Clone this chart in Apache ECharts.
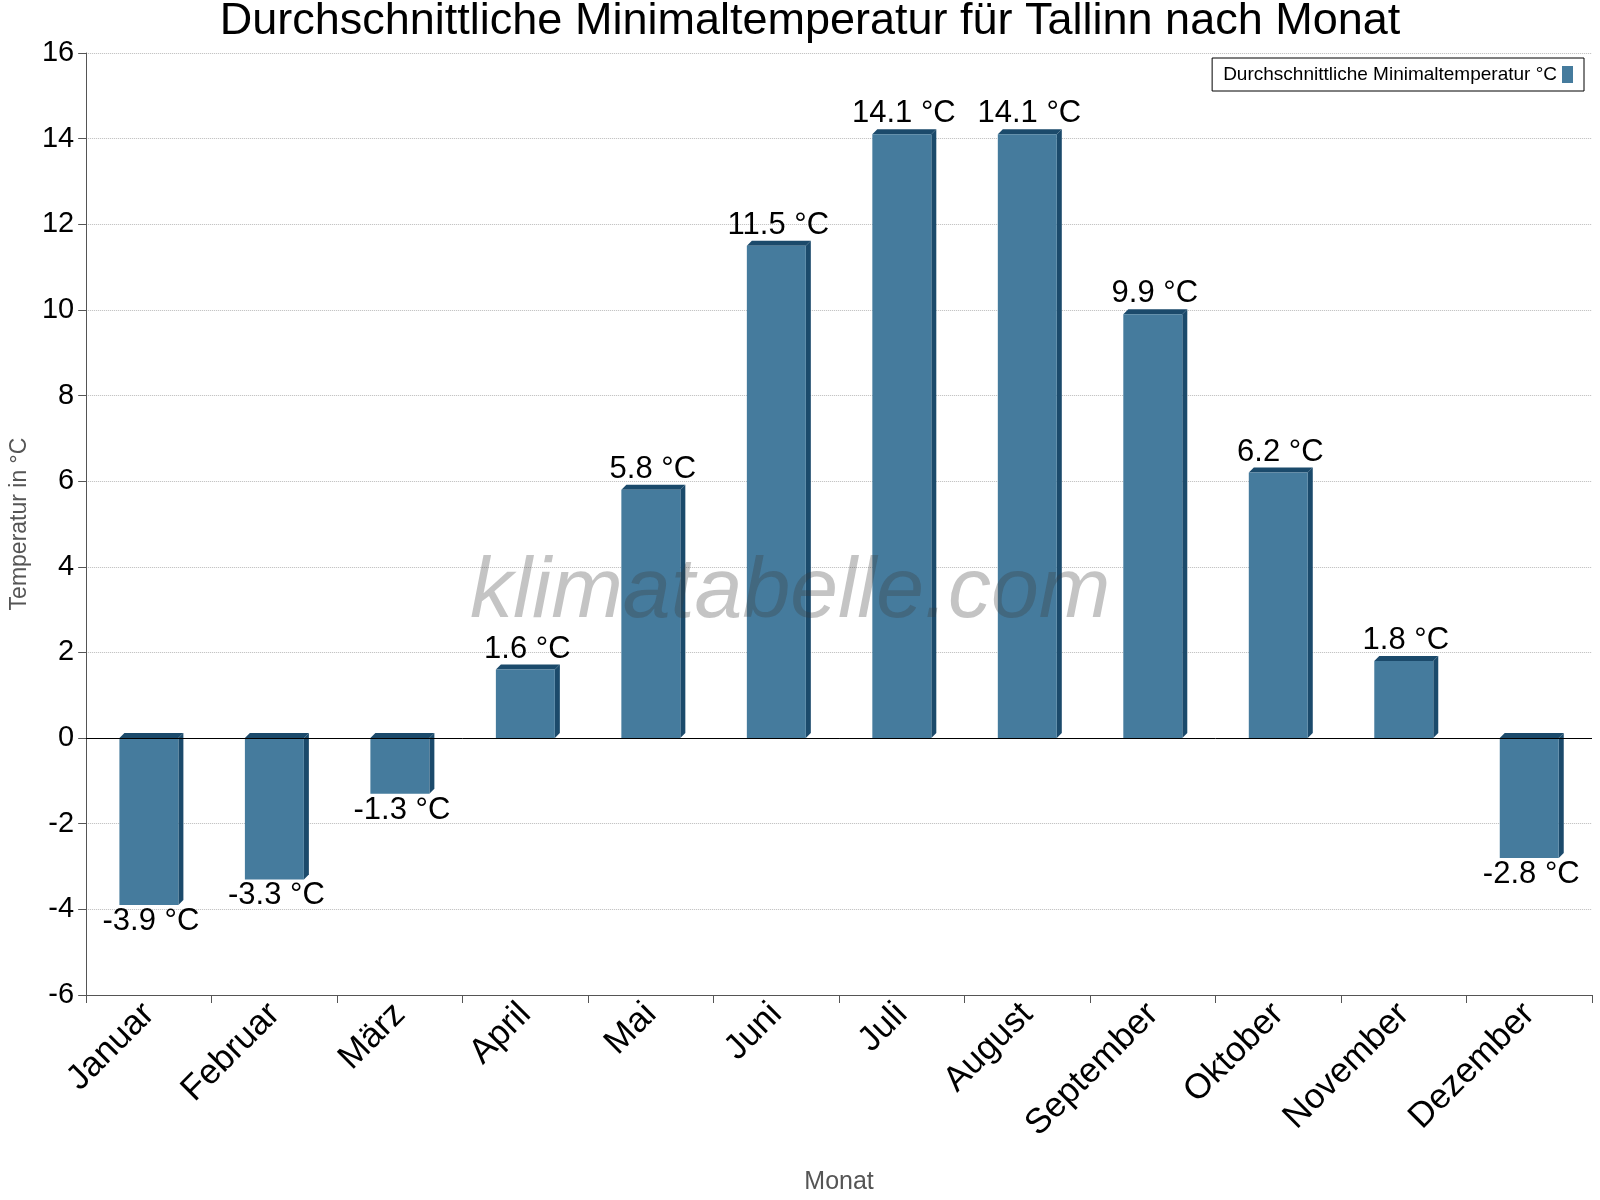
<!DOCTYPE html>
<html>
<head>
<meta charset="utf-8">
<script src="https://cdn.jsdelivr.net/npm/echarts@6/dist/echarts.min.js"></script>
<style>html,body{margin:0;padding:0;background:#fff}#chart{width:1600px;height:1200px}</style>
</head>
<body>
<div id="chart"></div>
<script>
var months = ['Januar', 'Februar', 'März', 'April', 'Mai', 'Juni', 'Juli', 'August', 'September', 'Oktober', 'November', 'Dezember'];
var minTemp = [-3.9, -3.3, -1.3, 1.6, 5.8, 11.5, 14.1, 14.1, 9.9, 6.2, 1.8, -2.8];
var yTicks = { min: -6, max: 16, interval: 2 };

var chart = echarts.init(document.getElementById('chart'));

function renderBar(params, api) {
    var i = api.value(0), v = api.value(1);
    var p0 = api.coord([i, 0]);
    var p1 = api.coord([i, v]);
    var w = api.size([1, 0])[0] * 0.47;
    var x = p0[0] - w / 2, d = 5;
    var top = Math.min(p0[1], p1[1]), bot = Math.max(p0[1], p1[1]);
    var label = v.toFixed(1) + ' °C';
    return {
        type: 'group',
        children: [
            { type: 'polygon', shape: { points: [[x + w, top], [x + w + d, top - d], [x + w + d, bot - d], [x + w, bot]] }, style: { fill: '#1b4a6b' } },
            { type: 'polygon', shape: { points: [[x, top], [x + d, top - d], [x + w + d, top - d], [x + w, top]] }, style: { fill: '#1b4a6b' } },
            { type: 'rect', shape: { x: x, y: top, width: w, height: bot - top }, style: { fill: '#457b9d' } },
            { type: 'text', style: { text: label, x: p0[0] + 2, y: v >= 0 ? top - 5 : bot + 1, align: 'center', verticalAlign: v >= 0 ? 'bottom' : 'top', fontSize: 31, fill: '#000', fontFamily: 'Liberation Sans' } }
        ]
    };
}

chart.setOption({
    textStyle: { fontFamily: 'Liberation Sans' },
    title: {
        text: 'Durchschnittliche Minimaltemperatur für Tallinn nach Monat',
        left: 805, top: -6, textAlign: 'center',
        textStyle: { fontSize: 45, fontWeight: 'normal', color: '#000' }
    },
    graphic: [{
        type: 'text', left: 470, top: 550, z: 100,
        style: { text: 'klimatabelle.com', fontSize: 86, fontStyle: 'italic', fill: 'rgba(60,60,60,0.3)', fontFamily: 'Liberation Sans' }
    }],
    legend: {
        right: 16, top: 58, orient: 'horizontal',
        data: [{ name: 'Durchschnittliche Minimaltemperatur °C', icon: 'rect' }],
        align: 'right',
        itemWidth: 11, itemHeight: 17,
        borderColor: '#000', borderWidth: 1, borderRadius: 0, padding: [7, 11],
        textStyle: { fontSize: 19, color: '#000' }
    },
    grid: { left: 82, right: 8, top: 53, bottom: 200 },
    xAxis: {
        type: 'category', data: months,
        name: 'Monat', nameLocation: 'middle', nameGap: 175,
        nameTextStyle: { fontSize: 25, color: '#555' },
        axisLine: { onZero: false, lineStyle: { color: '#555' } },
        axisTick: { show: true, length: 8, alignWithLabel: false, lineStyle: { color: '#555' } },
        axisLabel: { rotate: 45, fontSize: 35, color: '#000', margin: 14, interval: 0 }
    },
    yAxis: {
        type: 'value', min: yTicks.min, max: yTicks.max, interval: yTicks.interval,
        name: 'Temperatur in °C', nameLocation: 'middle', nameGap: 52,
        nameTextStyle: { fontSize: 23, color: '#555' },
        axisLine: { show: true, lineStyle: { color: '#555' } },
        axisTick: { show: true, length: 8, lineStyle: { color: '#555' } },
        axisLabel: { fontSize: 29, color: '#000', margin: 12 },
        splitLine: { show: true, lineStyle: { color: '#bbb', type: 'dotted' } }
    },
    series: [{
        name: 'Durchschnittliche Minimaltemperatur °C',
        type: 'custom',
        itemStyle: { color: '#457b9d' },
        renderItem: renderBar,
        encode: { x: 0, y: 1 },
        data: minTemp.map(function (v, i) { return [i, v]; }),
        markLine: {
            silent: true, symbol: 'none', label: { show: false },
            lineStyle: { color: '#000', type: 'solid', width: 1 },
            data: [{ yAxis: 0 }]
        }
    }]
});
</script>
</body>
</html>
